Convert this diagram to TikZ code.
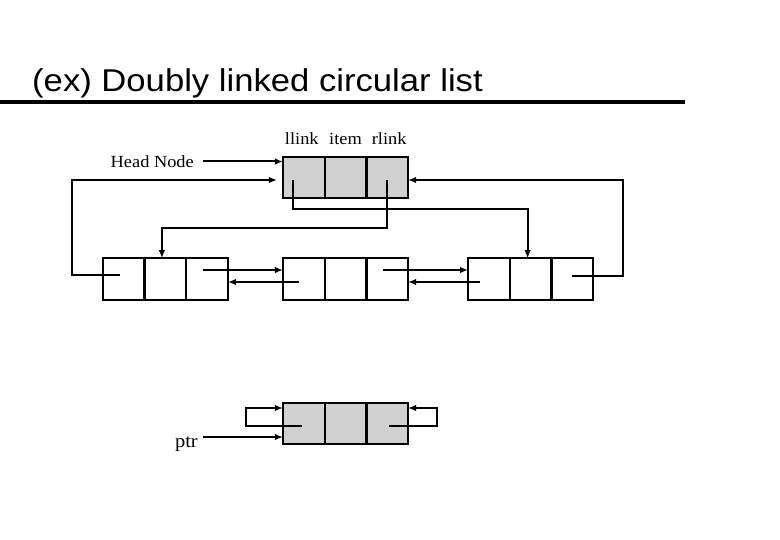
\documentclass[tikz,border=0pt]{standalone}
\usepackage{fontspec}
\setmainfont{Liberation Serif}
\newfontfamily\titlefont{Liberation Sans}
\usepackage{graphicx}
\usetikzlibrary{arrows.meta,positioning}
\definecolor{cellgray}{RGB}{208,208,208}
\newcommand{\widen}[2][1.08]{\scalebox{#1}[1]{#2}}

\begin{document}
\begin{tikzpicture}[
  x=1pt, y=-1pt,
  >={Latex[length=8pt,width=6.5pt]},
  cell/.style={draw, rectangle, line width=2.3pt, minimum width=41.7pt,
               minimum height=41.5pt, inner sep=0pt, outer sep=0pt},
  headcell/.style={cell, fill=cellgray},
  lbl/.style={inner sep=0pt, font=\fontsize{17}{19}\selectfont},
  link/.style={->, line width=2pt}
]
\useasboundingbox (0,0) rectangle (780,540);

% title
\node[anchor=base west, inner sep=0pt, font=\titlefont\fontsize{31.5}{34}\selectfont]
  (title) at (32,92) {\widen[1.1]{(ex) Doubly linked circular list}};
\draw[line width=4.5pt] (0,102) -- (685,102);

% head node
\node[headcell] (h1) at (303.8,177.5) {};
\node[headcell, right=0pt of h1] (h2) {};
\node[headcell, right=0pt of h2] (h3) {};

\node[lbl, above=12pt of h1, xshift=-2pt] (llink) {\widen{llink}};
\node[lbl, above=12pt of h2]              (item)  {\widen{item}};
\node[lbl, above=12pt of h3, xshift=2pt]  (rlink) {\widen{rlink}};
\node[lbl, anchor=base east] (headlbl) at (194,168) {\widen{Head Node}};

% list nodes
\node[cell, below=60pt of h1] (b1) {};
\node[cell, right=0pt of b1]  (b2) {};
\node[cell, right=0pt of b2]  (b3) {};
\node[cell, left=55pt of b1]  (a3) {};
\node[cell, left=0pt of a3]   (a2) {};
\node[cell, left=0pt of a2]   (a1) {};
\node[cell, right=60pt of b3] (c1) {};
\node[cell, right=0pt of c1]  (c2) {};
\node[cell, right=0pt of c2]  (c3) {};

% empty list
\node[headcell, below=103pt of b1] (p1) {};
\node[headcell, right=0pt of p1]   (p2) {};
\node[headcell, right=0pt of p2]   (p3) {};
\node[lbl, anchor=base east, font=\fontsize{19}{21}\selectfont] (ptrlbl) at (198,447) {\widen{ptr}};

% links
\draw[link] ([shift={(9,-6.5)}]headlbl.base east) coordinate (ht) -- (ht -| h1.west);
\draw[link, shorten >=6pt] ([shift={(-4,-4)}]a1.center) -- ++(-48,0) |- ([shift={(0,2.5)}]h1.west);
\draw[link] ([shift={(0,2.5)}]h3.center) -- ++(0,48) -| ([xshift=-3.5pt]a2.north);
\draw[link] ([shift={(-11,2.5)}]h1.center) -- ++(0,29) -| ([xshift=-3pt]c2.north);
\draw[link] ([shift={(0,-3)}]c3.center) -- ++(51,0) |- ([shift={(0,2.5)}]h3.east);

\draw[link] ([shift={(-4,-9)}]a3.center) -- ([shift={(0,-9)}]b1.west);
\draw[link] ([shift={(-5,3)}]b1.center)  -- ([shift={(0,3)}]a3.east);
\draw[link] ([shift={(-4,-9)}]b3.center) -- ([shift={(0,-9)}]c1.west);
\draw[link] ([shift={(-9,3)}]c1.center)  -- ([shift={(0,3)}]b3.east);

\draw[link] ([shift={(5,-10)}]ptrlbl.base east) coordinate (pt) -- (pt -| p1.west);
\draw[link] ([shift={(-2,2.5)}]p1.center) -- ++(-56,0) |- ([shift={(0,-15.5)}]p1.west);
\draw[link] ([shift={(2,2.5)}]p3.center)  -- ++(48,0)  |- ([shift={(0,-15.5)}]p3.east);
\end{tikzpicture}
\end{document}
